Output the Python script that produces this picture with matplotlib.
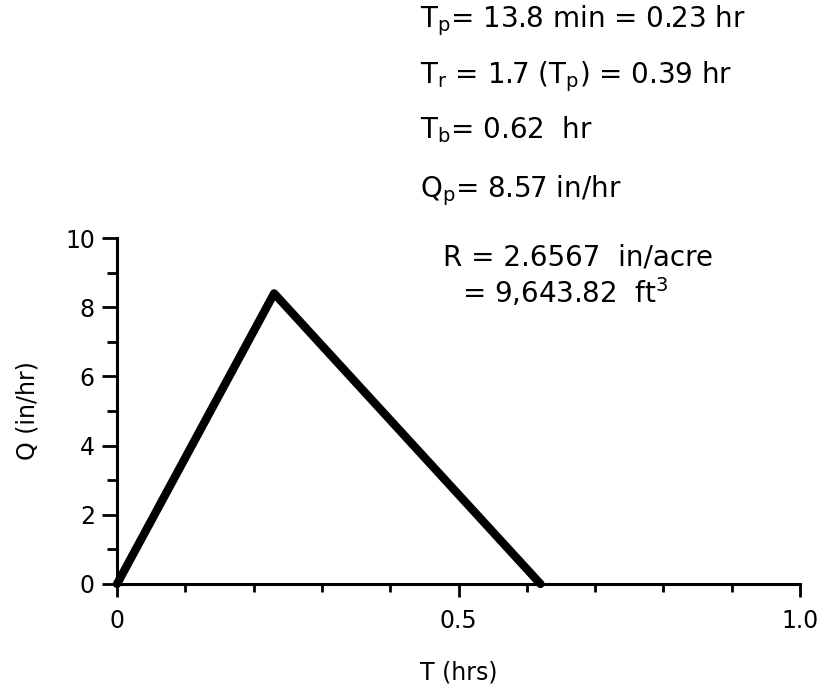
import matplotlib
matplotlib.use("Agg")
import matplotlib.pyplot as plt
from matplotlib.ticker import MultipleLocator

# triangular unit hydrograph
t_hrs = [0.0, 0.23, 0.62]
q_inhr = [0.0, 8.4, 0.0]

x_major = [0, 0.5, 1.0]
x_major_labels = ["0", "0.5", "1.0"]
y_major = [0, 2, 4, 6, 8, 10]

notes = [
    r"T$_\mathrm{p}$= 13.8 min = 0.23 hr",
    r"T$_\mathrm{r}$ = 1.7 (T$_\mathrm{p}$) = 0.39 hr",
    r"T$_\mathrm{b}$= 0.62  hr",
    r"Q$_\mathrm{p}$= 8.57 in/hr",
]
runoff = [r"R = 2.6567  in/acre", r"= 9,643.82  ft$^3$"]

plt.rcParams["font.family"] = ["DejaVu Sans"]
plt.rcParams["mathtext.default"] = "regular"

fig = plt.figure(figsize=(8.33, 6.96), dpi=100)
ax = fig.add_axes([0.1405, 0.161, 0.8199, 0.497])

ax.plot(t_hrs, q_inhr, color="black", lw=6, solid_joinstyle="round",
        solid_capstyle="round", clip_on=False)

ax.set_xlim(0, 1.0)
ax.set_ylim(0, 10)
ax.spines["top"].set_visible(False)
ax.spines["right"].set_visible(False)
for s in ("left", "bottom"):
    ax.spines[s].set_linewidth(2.2)

ax.set_xticks(x_major)
ax.set_xticklabels(x_major_labels)
ax.xaxis.set_minor_locator(MultipleLocator(0.1))
ax.set_yticks(y_major)
ax.yaxis.set_minor_locator(MultipleLocator(1))

ax.tick_params(axis="x", which="major", direction="out", length=9, width=2,
               pad=9, labelsize=17)
ax.tick_params(axis="x", which="minor", direction="out", length=6, width=2)
ax.tick_params(axis="y", which="major", direction="out", length=11, width=2,
               pad=5, labelsize=17)
ax.tick_params(axis="y", which="minor", direction="out", length=7, width=2)

ax.set_xlabel("T (hrs)", fontsize=17, labelpad=20)
ax.set_ylabel("Q (in/hr)", fontsize=17, labelpad=18)

y_base = [0.961, 0.881, 0.801, 0.717]
for txt, yb in zip(notes, y_base):
    fig.text(0.504, yb, txt, fontsize=20, va="baseline", ha="left")
fig.text(0.532, 0.619, runoff[0], fontsize=20, va="baseline", ha="left")
fig.text(0.555, 0.565, runoff[1], fontsize=20, va="baseline", ha="left")

fig.savefig("out.png", dpi=100)
